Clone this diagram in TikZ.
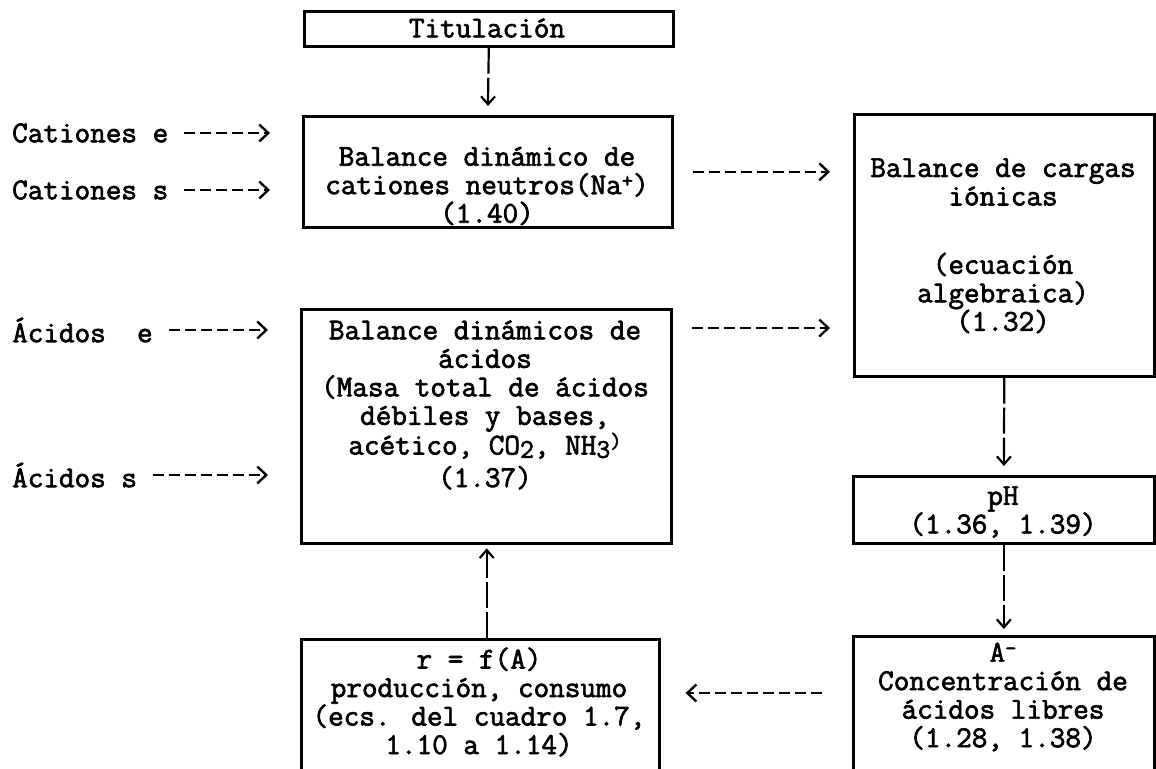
\documentclass[tikz,border=0pt]{standalone}
\usepackage{fontspec}
\newfontfamily\lmt{Latin Modern Mono}[FakeBold=2.2]
\usetikzlibrary{arrows.meta}
\newcommand{\subx}[1]{\raisebox{-.25ex}{\fontsize{27}{27}\selectfont #1}}
\newcommand{\supx}[1]{\raisebox{.5ex}{\fontsize{22}{22}\selectfont #1}}
\tikzset{
  boxn/.style={draw, line width=2.6pt, inner sep=0pt, anchor=north west},
  txt/.style={font=\lmt\fontsize{30.3}{28.5}\selectfont, align=center, inner sep=0pt},
  harrow/.style={line width=2.4pt, dash pattern=on 11pt off 5pt, -{Straight Barb[length=9pt,width=17pt,line width=2.4pt]}},
  varrow/.style={line width=2.2pt, dash pattern=on 26pt off 4pt, -{Straight Barb[length=8pt,width=14pt,line width=2.2pt]}},
}
\begin{document}
\begin{tikzpicture}[x=1pt,y=-1pt]
\useasboundingbox (0,0) rectangle (1156,768);
% boxes
\node[boxn, minimum width=369pt, minimum height=35pt] (tit) at (303,10) {};
\node[boxn, minimum width=369pt, minimum height=111pt] (b2) at (302,115) {};
\node[boxn, minimum width=300pt, minimum height=262pt] (b3) at (853,113) {};
\node[boxn, line width=3.4pt, minimum width=370pt, minimum height=234pt] (b4) at (300,308) {};
\node[boxn, minimum width=301pt, minimum height=67pt] (ph) at (852,475) {};
\node[boxn, minimum width=301pt, minimum height=150pt] (am) at (852,635) {};
\node[boxn, minimum width=358pt, minimum height=150pt] (rb) at (300,638) {};
% texts
\node[txt] (ttit) at (487,28) {Titulación};
\node[txt] (tb2) at (487,186) {Balance dinámico de\\cationes neutros(Na\supx{+})\\(1.40)};
\node[txt] (tb3a) at (1003,182) {Balance de cargas\\iónicas};
\node[txt] (tb3b) at (1003,293) {(ecuación\\algebraica)\\(1.32)};
\node[txt] (tb4) at (485,405) {Balance dinámicos de\\ácidos\\(Masa total de ácidos\\débiles y bases,\\acético, CO\subx{2}, NH\subx{3}\supx{)}\\[4pt](1.37)};
\node[txt] (tph) at (1003,512) {pH\\(1.36, 1.39)};
\node[txt] (tam) at (1003,697) {A\supx{-}\\Concentración de\\ácidos libres\\(1.28, 1.38)};
\node[txt] (trb) at (479,702) {r = f(A)\\producción, consumo\\(ecs. del cuadro 1.7,\\1.10 a 1.14)};
% left labels
\node[txt, anchor=west] (l1) at (12,133) {Cationes e};
\node[txt, anchor=west] (l2) at (12,190) {Cationes s};
\node[txt, anchor=west] (l3) at (12,330) {Ácidos\ \ e};
\node[txt, anchor=west] (l4) at (12,475) {Ácidos s};
% input arrows
\draw[harrow, shorten <=16pt, shorten >=32pt] (l1.east) -- (l1.east -| b2.west);
\draw[harrow, shorten <=16pt, shorten >=32pt] (l2.east) -- (l2.east -| b2.west);
\draw[harrow, shorten <=16pt, shorten >=32pt] (l3.east) -- (l3.east -| b4.west);
\draw[harrow, shorten <=16pt, shorten >=32pt] (l4.east) -- (l4.east -| b4.west);
% connectors
\draw[varrow, shorten >=9pt] (tit.south) -- (b2.north);
\draw[harrow, shorten <=19pt, shorten >=23pt] (b2.east) -- (b2.east -| b3.west);
\draw[harrow, shorten <=19pt, shorten >=23pt] ([yshift=-20pt]b4.north east) -- ([yshift=-20pt]b4.north east -| b3.west);
\draw[varrow, shorten >=9pt] (b3.south) -- (ph.north);
\draw[varrow, shorten >=6pt] (ph.south) -- (am.north);
\draw[harrow, shorten <=30pt, shorten >=25pt] ([yshift=-58pt]am.north west) -- ([yshift=-58pt]am.north west -| rb.east);
\draw[varrow, shorten >=3pt] (rb.north -| b4.south) -- (b4.south);
\end{tikzpicture}
\end{document}
